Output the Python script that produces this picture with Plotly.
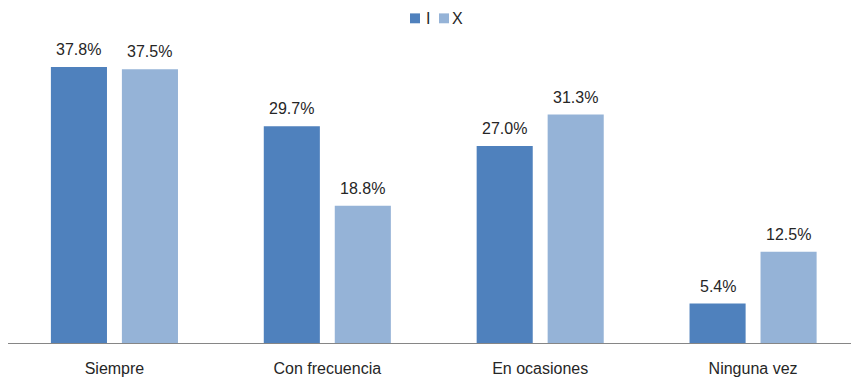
import plotly.graph_objects as go

categories = ["Siempre", "Con frecuencia", "En ocasiones", "Ninguna vez"]
series_I = [37.8, 29.7, 27.0, 5.4]
series_X = [37.5, 18.8, 31.3, 12.5]
series_names = ["I", "X"]
colors = ["#4F81BD", "#95B3D7"]

font_fam = "Liberation Sans, Arial, sans-serif"
txt_col = "#262626"

W, H = 851, 377
ML, MR, MT, MB = 8, 0, 51, 31
PW, PH = W - ML - MR, H - MT - MB

def px_x(p):
    return (p - ML) / PW

def px_y(p):
    return 1 + (MT - p) / PH

bargap, bargroupgap = 0.333, 0.21
slot = (1 - bargap) / 2

fig = go.Figure()
all_series = [series_I, series_X]
for k, (name, vals, col) in enumerate(zip(series_names, all_series, colors)):
    fig.add_trace(go.Bar(
        x=categories, y=vals, name=name,
        marker=dict(color=col, line=dict(width=0)),
        showlegend=False,
    ))
    off = (k - 0.5) * slot
    for i, v in enumerate(vals):
        fig.add_annotation(
            x=i + off, y=v, xref="x", yref="y",
            text=f"{v:.1f}%", showarrow=False,
            yanchor="bottom", yshift=7,
            font=dict(size=16, color=txt_col, family=font_fam),
        )

# manual legend
leg_sq = [(410, 420), (439, 449)]
leg_txt = [428, 458]
for (x0, x1), tx, name, col in zip(leg_sq, leg_txt, series_names, colors):
    fig.add_shape(type="rect", xref="paper", yref="paper",
                  x0=px_x(x0), x1=px_x(x1), y0=px_y(23), y1=px_y(13),
                  fillcolor=col, line=dict(width=0))
    fig.add_annotation(x=px_x(tx), y=px_y(18), xref="paper", yref="paper",
                       text=name, showarrow=False, xanchor="center", yanchor="middle",
                       font=dict(size=16, color=txt_col, family=font_fam))

fig.update_layout(
    width=W, height=H,
    margin=dict(l=ML, r=MR, t=MT, b=MB),
    paper_bgcolor="white", plot_bgcolor="white",
    barmode="group", bargap=bargap, bargroupgap=bargroupgap,
    showlegend=False,
    font=dict(family=font_fam, size=16, color=txt_col),
)
fig.update_xaxes(showline=True, linecolor="#868686", linewidth=1, ticks="",
                 range=[-0.5, 3.46], ticklabelstandoff=11,
                 tickfont=dict(size=16, color=txt_col, family=font_fam))
fig.update_yaxes(range=[0, 40], visible=False, showgrid=False, zeroline=False)

fig.write_html("out.html")
